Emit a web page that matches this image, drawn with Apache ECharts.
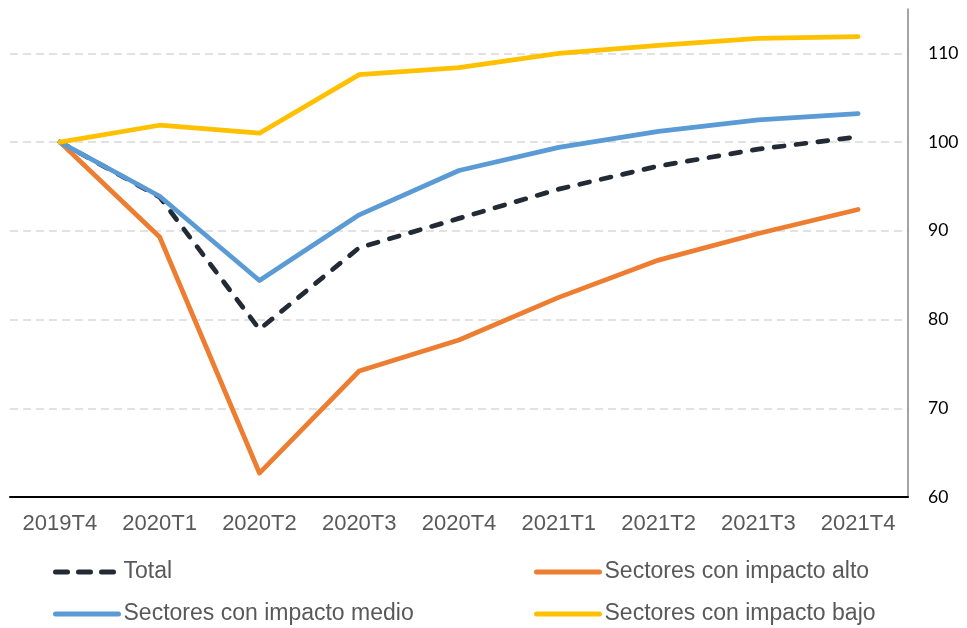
<!DOCTYPE html>
<html>
<head>
<meta charset="utf-8">
<script src="https://cdn.jsdelivr.net/npm/echarts@6/dist/echarts.min.js"></script>
<style>
  html, body { margin: 0; padding: 0; background: #ffffff; }
  #chart { width: 967px; height: 628px; }
</style>
</head>
<body>
<div id="chart"></div>
<script>
// Quarterly index, 2019T4 = 100
const quarters = ['2019T4', '2020T1', '2020T2', '2020T3', '2020T4', '2021T1', '2021T2', '2021T3', '2021T4'];
const total       = [100, 93.8, 78.9, 88.1, 91.4, 94.7, 97.3, 99.2, 100.6];
const impactoAlto = [100, 89.3, 62.7, 74.2, 77.7, 82.5, 86.7, 89.7, 92.4];
const impactoMedio = [100, 93.9, 84.4, 91.8, 96.8, 99.4, 101.2, 102.5, 103.2];
const impactoBajo = [100, 101.9, 101.0, 107.6, 108.4, 110.0, 110.9, 111.7, 111.9];

const yMin = 60, yMax = 115, yStep = 10;

const chart = echarts.init(document.getElementById('chart'), null, { renderer: 'canvas' });

const legendText = { fontFamily: 'Liberation Sans, Arial, sans-serif', fontSize: 23, color: '#595959', lineHeight: 24 };

function lineSeries(name, data, color, type) {
  return {
    name: name,
    type: 'line',
    data: data,
    symbol: 'none',
    smooth: false,
    animation: false,
    lineStyle: { color: color, width: 4.75, type: type || 'solid', cap: 'round', join: 'round' },
    itemStyle: { color: color }
  };
}

function legendBlock(left, names) {
  return {
    left: left, top: 560, padding: 0,
    orient: 'vertical',
    itemWidth: 63, itemHeight: 14, itemGap: 18,
    textStyle: legendText,
    itemStyle: { opacity: 0 },
    lineStyle: { width: 5 },
    data: names
  };
}

chart.setOption({
  animation: false,
  grid: { left: 10, right: 59, top: 9, bottom: 131, containLabel: false },
  xAxis: {
    type: 'category',
    data: quarters,
    boundaryGap: true,
    axisLine: { show: true, lineStyle: { color: '#000000', width: 2 } },
    axisTick: { show: false },
    axisLabel: {
      interval: 0,
      margin: 16,
      fontFamily: 'Liberation Sans, Arial, sans-serif',
      fontSize: 22,
      color: '#595959'
    },
    splitLine: { show: false }
  },
  yAxis: {
    type: 'value',
    position: 'right',
    min: yMin,
    max: yMax,
    interval: yStep,
    axisLine: { show: true, lineStyle: { color: '#868686', width: 1.5 } },
    axisTick: { show: false },
    axisLabel: {
      margin: 20,
      showMaxLabel: false,
      fontFamily: 'Lato, "Noto Sans", sans-serif',
      fontSize: 17.5,
      color: '#000000'
    },
    splitLine: {
      show: true,
      lineStyle: {
        // one colour per split line, the top edge stays blank
        color: ['transparent', '#d9d9d9', '#d9d9d9', '#d9d9d9', '#d9d9d9', '#d9d9d9', 'transparent'],
        width: 1.5,
        type: [8, 5]
      }
    }
  },
  legend: [
    legendBlock(53, [
      { name: 'Total', lineStyle: { width: 5, type: [12, 11] } },
      'Sectores con impacto medio'
    ]),
    legendBlock(534, ['Sectores con impacto alto', 'Sectores con impacto bajo'])
  ],
  series: [
    lineSeries('Total', total, '#222a35', [10, 12]),
    lineSeries('Sectores con impacto alto', impactoAlto, '#ed7d31'),
    lineSeries('Sectores con impacto medio', impactoMedio, '#5b9bd5'),
    lineSeries('Sectores con impacto bajo', impactoBajo, '#ffc000')
  ]
});
</script>
</body>
</html>
